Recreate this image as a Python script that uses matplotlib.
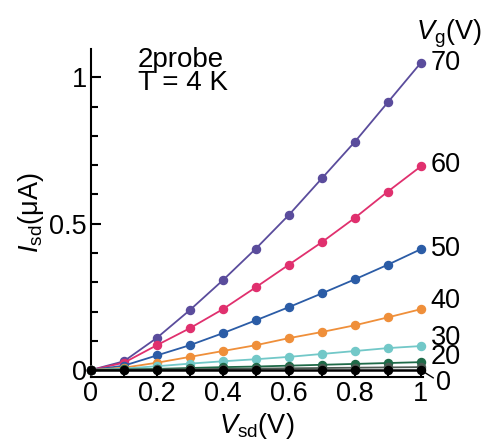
import matplotlib
matplotlib.use("Agg")
import matplotlib.pyplot as plt
from matplotlib.ticker import MultipleLocator

plt.rcParams['font.family'] = ['Liberation Sans', 'DejaVu Sans']
plt.rcParams['mathtext.fontset'] = 'custom'
plt.rcParams['mathtext.rm'] = 'Liberation Sans'
plt.rcParams['mathtext.it'] = 'Liberation Sans:italic'

vsd = [0.0, 0.1, 0.2, 0.3, 0.4, 0.5, 0.6, 0.7, 0.8, 0.9, 1.0]
vg_labels = ['70', '60', '50', '40', '30', '20', '10', '0']
i_70 = [0.0, 0.03, 0.11, 0.205, 0.307, 0.415, 0.53, 0.655, 0.78, 0.915, 1.05]
i_60 = [0.0, 0.025, 0.085, 0.143, 0.208, 0.283, 0.36, 0.437, 0.52, 0.61, 0.696]
i_50 = [0.0, 0.015, 0.05, 0.085, 0.126, 0.17, 0.215, 0.262, 0.31, 0.36, 0.413]
i_40 = [0.0, 0.008, 0.025, 0.045, 0.065, 0.085, 0.109, 0.13, 0.153, 0.18, 0.208]
i_30 = [0.0, 0.005, 0.013, 0.022, 0.03, 0.037, 0.045, 0.055, 0.065, 0.075, 0.082]
i_20 = [0.0, 0.002, 0.004, 0.007, 0.01, 0.012, 0.015, 0.018, 0.021, 0.024, 0.027]
i_10 = [0.0, 0.001, 0.002, 0.003, 0.004, 0.005, 0.006, 0.007, 0.008, 0.009, 0.01]
i_0 = [0.0, 0.0, 0.0, 0.0, 0.0, 0.0, 0.0, 0.0, 0.0, 0.0, 0.0]

series = [i_70, i_60, i_50, i_40, i_30, i_20, i_10, i_0]
colors = ['#5a4c9c', '#e0306e', '#2b5ca6', '#ef8f3a', '#72c8c8', '#1f6a48', '#4c5a52', '#000000']

fig = plt.figure(figsize=(4.94, 4.4), dpi=100)
ax = fig.add_axes([0.184, 0.143, 0.672, 0.745])

for lab, ys, c in zip(vg_labels, series, colors):
    lw = 1.8 if lab == '0' else 1.3
    ax.plot(vsd, ys, '-', color=c, lw=lw, marker='o', ms=5.8, mec=c, mfc=c, clip_on=False, zorder=3)

ax.set_xlim(0, 1.006)
ax.set_ylim(-0.024, 1.096)

for s in ['top', 'right']:
    ax.spines[s].set_visible(False)
for s in ['left', 'bottom']:
    ax.spines[s].set_linewidth(1.5)

ax.xaxis.set_minor_locator(MultipleLocator(0.1))
ax.yaxis.set_minor_locator(MultipleLocator(0.1))
ax.set_xticks([0, 0.2, 0.4, 0.6, 0.8, 1.0])
ax.set_xticklabels(['0', '0.2', '0.4', '0.6', '0.8', '1'])
ax.set_yticks([0, 0.5, 1.0])
ax.set_yticklabels(['0', '0.5', '1'])
ax.tick_params(which='major', direction='in', length=7, width=1.5, labelsize=19.5, pad=3)
ax.tick_params(which='minor', direction='in', length=5, width=1.5)

ax.set_xlabel(r'$V_{\rm sd}$(V)', fontsize=19.5, labelpad=3)
ax.set_ylabel(r'$I_{\rm sd}$($\rm\mu$A)', fontsize=19.5, labelpad=2)

# series labels
label_pos = {'70': 1.05, '60': 0.70, '50': 0.415, '40': 0.235, '30': 0.11, '20': 0.043}
for lab, y in label_pos.items():
    ax.text(1.03, y, lab, fontsize=19.5, va='center', ha='left', clip_on=False)
ax.text(1.045, -0.043, '0', fontsize=19.5, va='center', ha='left', clip_on=False)
ax.annotate('', xy=(1.045, -0.032), xytext=(1.0, 0.0),
            arrowprops=dict(arrowstyle='-', color='black', lw=1.0), annotation_clip=False)

ax.text(0.985, 1.15, r'$V_{\rm g}$(V)', fontsize=19.5, va='center', ha='left', clip_on=False)
ax.text(0.142, 1.105, '2probe\nT = 4 K', fontsize=20, va='top', ha='left', linespacing=0.85)

fig.savefig('out.png', dpi=100)
